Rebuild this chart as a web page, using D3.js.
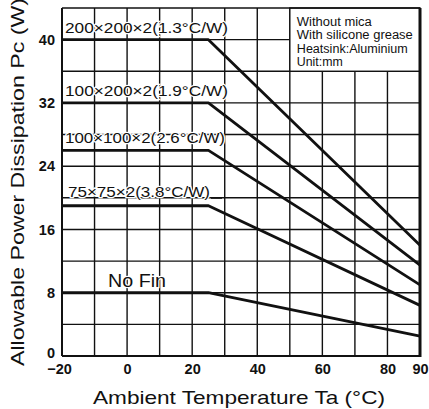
<!DOCTYPE html>
<html><head><meta charset="utf-8">
<script src="https://cdn.jsdelivr.net/npm/d3@7"></script>
<style>html,body{margin:0;padding:0;background:#fff;overflow:hidden}</style>
</head><body><svg id="c" width="429" height="409"></svg>
<script>
// ---- data ----
const seriesNames = ["200×200×2(1.3°C/W)", "100×200×2(1.9°C/W)", "100×100×2(2.6°C/W)", "75×75×2(3.8°C/W)", "No Fin"];
const kneeTemps = [-20, 25, 90];
const flatPower = [40, 32, 26, 19, 8];
const endPower = [14.0, 11.5, 9.0, 6.4, 2.5];
const xTicks = [-20, 0, 20, 40, 60, 80, 90];
const yTicks = [0, 8, 16, 24, 32, 40];
const xGrid = [-10, 0, 10, 20, 30, 40, 50, 60, 70, 80];
const yGrid = [4, 8, 12, 16, 20, 24, 28, 32, 36, 40];
const noteLines = ["Without mica", "With silicone grease", "Heatsink:Aluminium", "Unit:mm"];
const xTitle = "Ambient Temperature Ta (°C)";
const yTitle = "Allowable Power Dissipation Pc (W)";

// ---- layout ----
const L = 62, R = 420, T = 8, B = 356;
const x = d3.scaleLinear().domain([-20, 90]).range([L, R]);
const y = d3.scaleLinear().domain([0, 44]).range([B, T]);
const svg = d3.select("#c");
const ink = "#111";
const font = "'Liberation Sans', Arial, sans-serif";

// grid
const g = svg.append("g");
g.selectAll(".vg").data(xGrid).enter().append("line")
  .attr("x1", d => x(d)).attr("x2", d => x(d)).attr("y1", T).attr("y2", B)
  .attr("stroke", ink).attr("stroke-width", 1.4);
g.selectAll(".hg").data(yGrid).enter().append("line")
  .attr("x1", L).attr("x2", R).attr("y1", d => y(d)).attr("y2", d => y(d))
  .attr("stroke", ink).attr("stroke-width", 1.4);

// note box (cells 50..90 x 36..44)
svg.append("rect").attr("x", x(50)).attr("y", y(44)).attr("width", x(90) - x(50)).attr("height", y(36) - y(44))
  .attr("fill", "#fff").attr("stroke", ink).attr("stroke-width", 1.4);
const noteBase = [26, 39.3, 52.6, 66];
const noteLen = [75, 116, 111, 46];
svg.selectAll(".note").data(noteLines).enter().append("text")
  .attr("x", x(50) + 7).attr("y", (d, i) => noteBase[i])
  .attr("textLength", (d, i) => noteLen[i]).attr("lengthAdjust", "spacingAndGlyphs")
  .attr("font-family", font).attr("font-size", 12).attr("fill", ink)
  .text(d => d);

// frame
svg.append("line").attr("x1", L).attr("x2", R).attr("y1", T).attr("y2", T).attr("stroke", ink).attr("stroke-width", 1.5);
svg.append("line").attr("x1", L).attr("x2", L).attr("y1", T).attr("y2", B).attr("stroke", ink).attr("stroke-width", 2);
svg.append("line").attr("x1", L).attr("x2", R).attr("y1", B).attr("y2", B).attr("stroke", ink).attr("stroke-width", 2.2);
svg.append("line").attr("x1", R).attr("x2", R).attr("y1", T).attr("y2", B + 1).attr("stroke", ink).attr("stroke-width", 3);

// curves
const series = seriesNames.map((n, i) => ({
  name: n,
  pts: [[kneeTemps[0], flatPower[i]], [kneeTemps[1], flatPower[i]], [kneeTemps[2], endPower[i]]]
}));
const line = d3.line().x(d => x(d[0])).y(d => y(d[1]));
svg.selectAll(".curve").data(series).enter().append("path")
  .attr("d", d => line(d.pts)).attr("fill", "none").attr("stroke", ink)
  .attr("stroke-width", 2.8).attr("stroke-linejoin", "round");

// curve labels
const labX = [65, 65, 65, 68, 108];
const labDy = [-7, -7, -7, -8.5, -5.7];
const labLen = [163, 163, 160, 142, 58];
const labSize = [15.5, 15.5, 15.5, 15.5, 18];
svg.selectAll(".lab").data(series).enter().append("text")
  .attr("x", (d, i) => labX[i]).attr("y", (d, i) => y(flatPower[i]) + labDy[i])
  .attr("textLength", (d, i) => labLen[i]).attr("lengthAdjust", "spacingAndGlyphs")
  .attr("font-family", font).attr("font-size", (d, i) => labSize[i]).attr("fill", ink)
  .attr("stroke", "#fff").attr("stroke-width", 2.5).attr("paint-order", "stroke")
  .text(d => d.name);
// leader after 75x75 label
svg.append("line").attr("x1", 211).attr("x2", 222).attr("y1", y(19) - 7.5).attr("y2", y(19) - 7.5)
  .attr("stroke", ink).attr("stroke-width", 1.2);

// axes (tick labels)
const ax = svg.append("g").attr("transform", `translate(0,${B})`)
  .call(d3.axisBottom(x).tickValues(xTicks).tickSize(0).tickPadding(0)
    .tickFormat(d => d < 0 ? "\u2212" + Math.abs(d) : d));
ax.select(".domain").remove();
ax.selectAll("text").attr("font-family", font).attr("font-size", 14.5).attr("font-weight", "bold")
  .attr("fill", ink).attr("dy", null).attr("y", 18);
ax.selectAll("text").filter(d => d === -20).attr("dx", -3);

const ay = svg.append("g").attr("transform", `translate(${L},0)`)
  .call(d3.axisLeft(y).tickValues(yTicks).tickSize(0).tickPadding(7));
ay.select(".domain").remove();
ay.selectAll("text").attr("font-family", font).attr("font-size", 14.5).attr("font-weight", "bold").attr("fill", ink);
ay.selectAll("text").filter(d => d === 0).attr("dy", null).attr("y", 1);

// titles
svg.append("text").attr("x", 239).attr("y", 404).attr("text-anchor", "middle")
  .attr("textLength", 292).attr("lengthAdjust", "spacingAndGlyphs")
  .attr("font-family", font).attr("font-size", 18.5).attr("fill", ink).text(xTitle);
svg.append("text").attr("transform", "translate(24,182) rotate(-90)").attr("text-anchor", "middle")
  .attr("textLength", 368).attr("lengthAdjust", "spacingAndGlyphs")
  .attr("font-family", font).attr("font-size", 18.5).attr("fill", ink).text(yTitle);
</script>
</body></html>
